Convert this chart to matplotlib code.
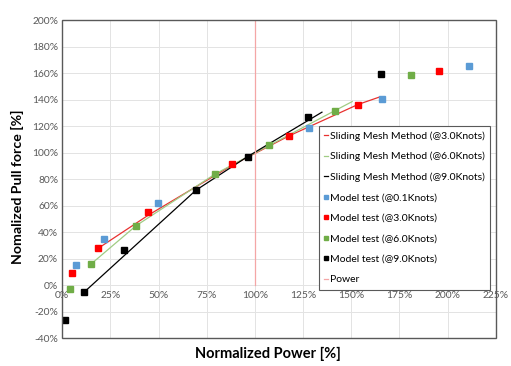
import matplotlib
matplotlib.use('Agg')
import matplotlib.pyplot as plt
from matplotlib.patches import Rectangle
from matplotlib.ticker import FuncFormatter, MultipleLocator

plt.rcParams['font.family'] = ['Lato', 'DejaVu Sans']

# Sliding mesh method (lines), normalized power [%] / pull force [%]
sm3_x = [18.4, 44.7, 88.2, 117.7, 153.5, 164.8]
sm3_y = [27.5, 52.8, 90.5, 112.6, 136.3, 142.0]
sm6_x = [15.2, 38.3, 79.3, 107.5, 141.3, 150.5]
sm6_y = [16.2, 44.8, 83.8, 105.5, 131.5, 138.5]
sm9_x = [11.3, 69.3, 96.0, 134.8]
sm9_y = [-5.4, 71.5, 96.8, 130.5]

# Model tests (markers)
mt01_x = [7.0, 21.8, 49.7, 128.1, 165.8, 210.9]
mt01_y = [15.2, 34.8, 62.1, 118.4, 140.7, 165.3]
mt3_x = [5.2, 18.4, 44.7, 88.2, 117.7, 153.5, 195.6]
mt3_y = [9.4, 27.7, 54.8, 91.3, 112.6, 136.2, 161.6]
mt6_x = [3.8, 15.1, 38.3, 79.2, 107.4, 141.4, 181.2]
mt6_y = [-3.1, 16.2, 44.8, 83.8, 105.8, 131.7, 158.6]
mt9_x = [1.6, 11.4, 31.9, 69.3, 96.2, 127.3, 165.6]
mt9_y = [-26.2, -5.4, 26.7, 71.7, 97.0, 127.2, 159.3]

power_x = [100, 100]
power_y = [0, 200]

fig = plt.figure(figsize=(5.11, 3.66), dpi=100)
ax = fig.add_axes([0.122, 0.0765, 0.848, 0.8685])

ax.plot(sm3_x, sm3_y, color='#E8312F', lw=0.9, label='Sliding Mesh Method (@3.0Knots)')
ax.plot(sm6_x, sm6_y, color='#A0CC84', lw=0.9, label='Sliding Mesh Method (@6.0Knots)')
ax.plot(sm9_x, sm9_y, color='#000000', lw=0.9, label='Sliding Mesh Method (@9.0Knots)')
ms = 4.3
ax.plot(mt01_x, mt01_y, 's', color='#5B9BD5', ms=ms, label='Model test (@0.1Knots)')
ax.plot(mt3_x, mt3_y, 's', color='#FF0000', ms=ms, label='Model test (@3.0Knots)')
ax.plot(mt6_x, mt6_y, 's', color='#70AD47', ms=ms, label='Model test (@6.0Knots)')
ax.plot(mt9_x, mt9_y, 's', color='#000000', ms=ms, label='Model test (@9.0Knots)')
ax.plot(power_x, power_y, color='#F4A6A6', lw=0.9, label='Power')

ax.set_xlim(0, 225)
ax.set_ylim(-40, 200)
ax.xaxis.set_major_locator(MultipleLocator(25))
ax.yaxis.set_major_locator(MultipleLocator(20))
pct = FuncFormatter(lambda v, p: f'{v:.0f}%')
ax.xaxis.set_major_formatter(pct)
ax.yaxis.set_major_formatter(pct)
ax.tick_params(length=0, labelsize=7.4, colors='#595959', pad=3)
ax.tick_params(axis='x', pad=4)
ax.grid(color='#E3E3E3', lw=0.7)
ax.set_axisbelow(True)

ax.spines['bottom'].set_position(('data', 0))
for s in ax.spines.values():
    s.set_visible(False)
ax.add_patch(Rectangle((0, 0), 1, 1, transform=ax.transAxes, fill=False,
                       edgecolor='#595959', lw=1.0, clip_on=False, zorder=5))

fig.text(0.034, 0.49, 'Nomalized Pull force [%]', fontsize=10.2, fontweight='bold',
         rotation=90, ha='center', va='center')
fig.text(0.525, 0.033, 'Normalized Power [%]', fontsize=10.5, fontweight='bold',
         ha='center', va='center')

leg = ax.legend(loc='upper left', bbox_to_anchor=(0.592, 0.667), fontsize=7.5,
                frameon=True, fancybox=False, edgecolor='#595959', framealpha=1,
                handlelength=0.35, handletextpad=0.2, labelspacing=1.07,
                borderpad=0.5, markerscale=0.8, borderaxespad=0)
leg.get_frame().set_linewidth(0.8)
leg.set_zorder(6)

fig.savefig('out.png', dpi=100)
